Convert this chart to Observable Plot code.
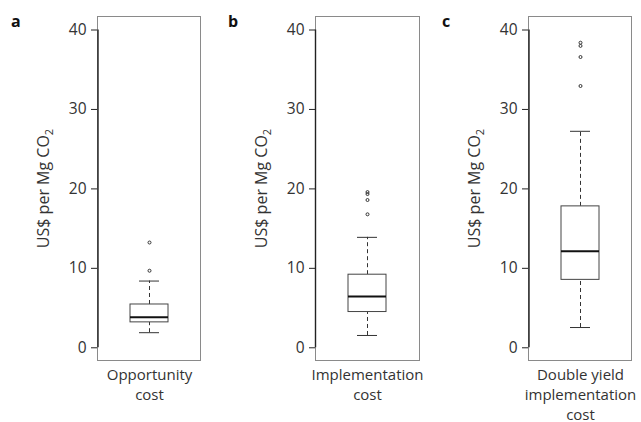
<!DOCTYPE html>
<html>
<head>
<meta charset="utf-8">
<script src="https://cdn.jsdelivr.net/npm/d3@7"></script>
<script src="https://cdn.jsdelivr.net/npm/@observablehq/plot@0.6"></script>
<style>
  html, body { margin: 0; padding: 0; background: #fff; }
  #wrap { position: relative; width: 641px; height: 422px; font-family: "Open Sans", sans-serif; }
  .panel { position: absolute; top: 0; }
  .letter { position: absolute; top: 10px; font: bold 16px "Open Sans", sans-serif; color: #111; }
</style>
</head>
<body>
<div id="wrap"></div>
<script>
// ---- data ----
const panelLetters = ["a", "b", "c"];
const categories = ["Opportunity\ncost", "Implementation\ncost", "Double yield\nimplementation\ncost"];
const lowerWhisker = [1.9, 1.55, 2.55];
const q1 = [3.2, 4.5, 8.55];
const median = [3.85, 6.45, 12.15];
const q3 = [5.45, 9.2, 17.8];
const upperWhisker = [8.4, 13.9, 27.25];
const outliersA = [9.7, 13.25];
const outliersB = [16.8, 18.6, 19.35, 19.6];
const outliersC = [32.95, 36.6, 38.0, 38.4];
const yTicks = [0, 10, 20, 30, 40];
const yTitle = "US$ per Mg CO";

// ---- layout ----
const layout = [
  {left: 0, width: 214, ml: 97, mr: 14, letterX: 11},
  {left: 214, width: 214, ml: 101, mr: 9, letterX: 228},
  {left: 428, width: 213, ml: 100, mr: 10, letterX: 442}
];
const outliers = [outliersA, outliersB, outliersC];
const wrap = document.getElementById("wrap");

categories.forEach((cat, i) => {
  const L = layout[i];
  const innerW = L.width - L.ml - L.mr;
  const row = {cat, low: lowerWhisker[i], q1: q1[i], med: median[i], q3: q3[i], high: upperWhisker[i]};
  const out = outliers[i].map(v => ({cat, v}));
  const chart = Plot.plot({
    width: L.width,
    height: 422,
    marginLeft: L.ml,
    marginRight: L.mr,
    marginTop: 16,
    marginBottom: 62,
    style: {fontFamily: "Open Sans, sans-serif", fontSize: "15.5px", color: "#333", background: "transparent", overflow: "visible"},
    x: {type: "band", domain: [cat], padding: 0.461},
    y: {domain: [-1.6, 41.7]},
    marks: [
      Plot.frame({stroke: "#8a8a8a"}),
      Plot.ruleX([row], {x: "cat", y1: yTicks[0], y2: yTicks[yTicks.length - 1], dx: -innerW / 2, stroke: "#222", strokeWidth: 1.4}),
      Plot.axisY(yTicks, {tickSize: 6, tickPadding: 5, label: null, fontSize: 15.5, stroke: "#222"}),
      Plot.axisX({tickSize: 0, tickPadding: 5, label: null, fontSize: 15, lineHeight: 1.33}),
      Plot.ruleX([row], {x: "cat", y1: "q3", y2: "high", stroke: "#333", strokeDasharray: "4,3"}),
      Plot.ruleX([row], {x: "cat", y1: "low", y2: "q1", stroke: "#333", strokeDasharray: "4,3"}),
      Plot.tickY([row], {x: "cat", y: "high", stroke: "#333", insetLeft: 9, insetRight: 9}),
      Plot.tickY([row], {x: "cat", y: "low", stroke: "#333", insetLeft: 9, insetRight: 9}),
      Plot.barY([row], {x: "cat", y1: "q1", y2: "q3", fill: "white", stroke: "#444"}),
      Plot.tickY([row], {x: "cat", y: "med", stroke: "#111", strokeWidth: 2}),
      Plot.dot(out, {x: "cat", y: "v", r: 1.5, stroke: "#333", strokeWidth: 1}),
      Plot.text([yTitle], {frameAnchor: "left", textAnchor: "middle", rotate: -90, dx: -54, text: d => d, fontSize: 16, fill: "#333"})
    ]
  });
  chart.classList.add("panel");
  chart.style.left = L.left + "px";
  wrap.appendChild(chart);
  // subscript 2 on CO2
  d3.select(chart).selectAll("text").filter(function() { return this.textContent === yTitle; })
    .append("tspan").attr("dy", 4).attr("font-size", 11).text("2");
  const letter = document.createElement("div");
  letter.className = "letter";
  letter.style.left = L.letterX + "px";
  letter.textContent = panelLetters[i];
  wrap.appendChild(letter);
});
</script>
</body>
</html>
